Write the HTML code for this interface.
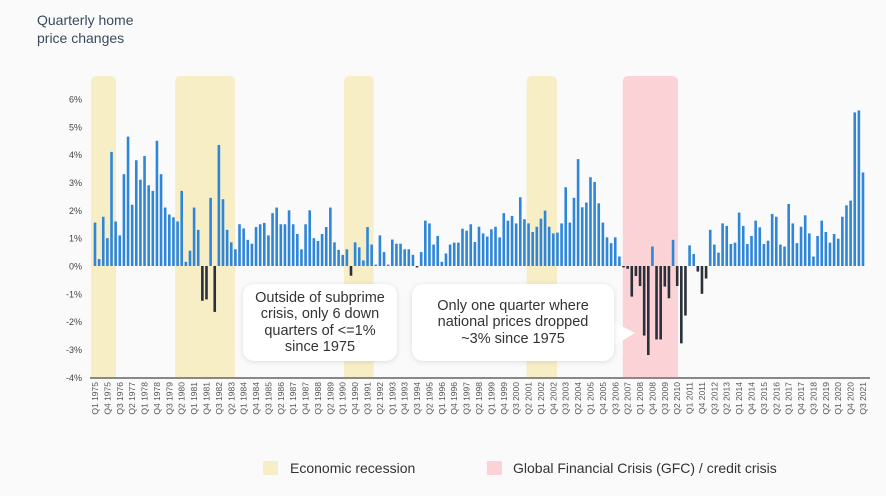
<!DOCTYPE html>
<html><head><meta charset="utf-8"><style>
body{margin:0;background:#fafafa;}
#wrap{position:relative;width:886px;height:496px;overflow:hidden;background:#fafafa;font-family:"Liberation Sans",sans-serif;}
.title{position:absolute;left:37px;top:11px;font-size:14px;line-height:18px;color:#3a4a5c;}
.box{position:absolute;background:#fff;border-radius:11px;box-shadow:0 1px 6px rgba(0,0,0,0.12);font-size:14.5px;line-height:16.5px;color:#333;text-align:center;display:flex;align-items:center;justify-content:center;}
.leg{position:absolute;font-size:14px;color:#333;}
.sw{position:absolute;width:15px;height:14px;}
</style></head><body>
<div id="wrap">
<div class="title">Quarterly home<br>price changes</div>
<svg id="chart" width="886" height="496" style="position:absolute;left:0;top:0"></svg>
<div class="box" style="left:243px;top:284px;width:154px;height:77px">Outside of subprime<br>crisis, only 6 down<br>quarters of &lt;=1%<br>since 1975</div>
<svg style="position:absolute;left:610px;top:318px" width="30" height="34"><path d="M0 2 L25 15 L0 30 Z" fill="#fff"/></svg>
<div class="box" style="left:412px;top:284px;width:202px;height:77px">Only one quarter where<br>national prices dropped<br>~3% since 1975</div>
<div class="sw" style="left:263px;top:461px;background:#f7eec6"></div>
<div class="leg" style="left:290px;top:460px">Economic recession</div>
<div class="sw" style="left:487px;top:461px;background:#fbd3d6"></div>
<div class="leg" style="left:513px;top:460px">Global Financial Crisis (GFC) / credit crisis</div>
</div>
<script>
const values = [1.56,0.25,1.77,1.0,4.1,1.6,1.1,3.3,4.65,2.2,3.8,3.1,3.95,2.9,2.7,4.5,3.3,2.1,1.85,1.75,1.6,2.7,0.15,0.55,2.1,1.3,-1.25,-1.2,2.45,-1.65,4.35,2.4,1.3,0.85,0.6,
1.5,1.35,0.94,0.8,1.4,1.5,1.55,1.1,1.9,2.1,1.5,1.5,2.0,1.5,1.15,0.6,1.5,2.0,1.0,0.9,1.15,1.4,2.1,0.85,0.58,0.4,0.6,-0.35,0.85,0.67,0.2,1.4,0.77,0.05,1.1,0.5,0.05,0.95,
0.8,0.8,0.6,0.6,0.4,-0.05,0.5,1.63,1.53,0.77,1.08,0.15,0.45,0.77,0.84,0.84,1.34,1.27,1.5,0.86,1.41,1.17,1.06,1.32,1.41,1.03,1.9,1.63,1.8,1.53,2.47,1.68,1.53,1.22,1.41,1.7,1.99,1.41,1.17,
1.2,1.53,2.83,1.56,2.45,3.84,2.11,2.28,3.19,3.02,2.25,1.56,1.03,0.82,1.03,0.34,
-0.05,-0.1,-1.1,-0.36,-0.72,-2.5,-3.2,0.7,-2.64,-2.64,-0.74,-1.16,0.94,-0.72,-2.78,-1.78,0.74,0.43,-0.2,-1.0,-0.45,
1.3,0.77,0.48,1.53,1.44,0.79,0.84,1.92,1.44,0.79,1.08,1.63,1.39,0.79,0.91,1.87,1.77,0.77,0.7,2.23,1.53,0.82,1.41,1.82,1.17,0.34,1.08,1.63,1.22,0.84,1.15,0.98,1.77,2.18,2.35,5.52,5.59,3.36];
const yTicks = [6,5,4,3,2,1,0,-1,-2,-3,-4];
const recessionStarts = [-0.5,19.9,60.8,105];
const recessionEnds = [4.6,33.4,67,111.4];
const gfcStart = [128.3];
const gfcEnd = [140.7];
const startYear = 1975;

const NS='http://www.w3.org/2000/svg';
const svg=document.getElementById('chart');
const x=i=>95+i*(863-95)/186;
const y=v=>266-v*27.83;
function mk(t,a){const e=document.createElementNS(NS,t);for(const k in a)e.setAttribute(k,a[k]);svg.appendChild(e);return e;}
function band(s,e,c,name){const x0=x(s)-2,x1=x(e)+2;
 const r=mk('path',{d:`M${x0} 378 L${x0} 82 Q${x0} 76 ${x0+6} 76 L${x1-6} 76 Q${x1} 76 ${x1} 82 L${x1} 378 Z`,fill:c});
 
 }
for(let k=0;k<recessionStarts.length;k++)band(recessionStarts[k],recessionEnds[k],'#f7eec6','recession-band');
band(gfcStart[0],gfcEnd[0],'#fbd3d6','gfc-band');
yTicks.forEach(t=>{const e=mk('text',{x:82,y:y(t)+3.5,'text-anchor':'end','font-size':'9','fill':'#444','font-family':'Liberation Sans, sans-serif'});e.textContent=t+'%';
 
 });
const ax=mk('line',{x1:90,x2:870,y1:378,y2:378,stroke:'#888','stroke-width':2});


values.forEach((v,i)=>{const y0=y(0),y1=y(v);
 const r=mk('rect',{x:x(i)-1.3,width:2.6,y:Math.min(y0,y1),height:Math.max(0.8,Math.abs(y1-y0)),fill:v>=0?'#2f86d8':'#2b2f3a'});
 
 });
for(let i=0;i<values.length;i+=3){const q=i%4+1,yr=startYear+Math.floor(i/4);
 const e=mk('text',{transform:`translate(${x(i)+3},382) rotate(-90)`,'text-anchor':'end','font-size':'8.5','fill':'#555','font-family':'Liberation Sans, sans-serif'});
 e.textContent='Q'+q+' '+yr;
 
 }
</script>
</body></html>
